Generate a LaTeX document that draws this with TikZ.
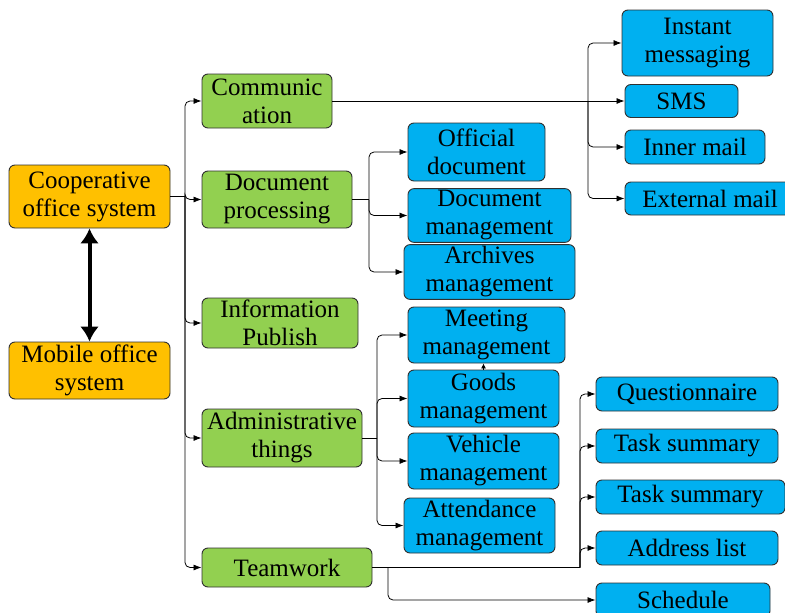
\documentclass[tikz,border=0pt]{standalone}
\usepackage{fontspec}
\setmainfont{Liberation Serif}
\usetikzlibrary{arrows.meta}
\usepackage{xcolor}

\definecolor{sysOrange}{HTML}{FFC000}
\definecolor{modGreen}{HTML}{92D050}
\definecolor{itemBlue}{HTML}{00B0F0}
\definecolor{edgeGray}{HTML}{303030}

\tikzset{
  every box/.style={draw=edgeGray, line width=0.9pt, rounded corners=6pt,
    align=center, inner sep=2pt, font=\fontsize{25}{28}\selectfont},
  system box/.style={every box, fill=sysOrange},
  module box/.style={every box, fill=modGreen},
  item box/.style={every box, fill=itemBlue},
  link/.style={line width=0.8pt, rounded corners=5pt},
  link arrow/.style={link, -{Latex[length=8pt,width=6pt]}},
}

\begin{document}
\begin{tikzpicture}[x=1pt, y=-1pt]
\useasboundingbox (0,0) rectangle (785,613);

% systems
\node [system box, minimum width=161pt, minimum height=63pt] (coop) at (89.5,196.5) {Cooperative\\office system};
\node [system box, minimum width=161pt, minimum height=57pt] (mobile) at (89.5,370.5) {Mobile office\\system};

% modules
\node [module box, minimum width=130pt, minimum height=54pt] (comm) at (267,101) {Communic\\ation};
\node [module box, minimum width=150pt, minimum height=57pt] (doc) at (277,199.5) {Document\\processing};
\node [module box, minimum width=156pt, minimum height=50pt] (info) at (280,323) {Information\\Publish};
\node [module box, minimum width=160pt, minimum height=58pt] (admin) at (282,438) {Administrative\\things};
\node [module box, minimum width=170pt, minimum height=39pt] (team) at (287,567.5) {Teamwork};

% communication items
\node [item box, minimum width=151pt, minimum height=66pt] (instant) at (697.5,43) {Instant\\messaging};
\node [item box, minimum width=113pt, minimum height=33pt] (sms) at (681.5,101) {SMS};
\node [item box, minimum width=140pt, minimum height=34pt] (inner) at (695,147) {Inner mail};
\node [item box, minimum width=170pt, minimum height=33pt] (external) at (710,198.5) {External mail};

% document items
\node [item box, minimum width=137pt, minimum height=58pt] (official) at (476.5,152) {Official\\document};
\node [item box, minimum width=163pt, minimum height=49pt] (docmgmt) at (489.5,215.5) {Document\\management};
\node [item box, minimum width=171pt, minimum height=50pt] (archives) at (489.5,272) {Archives\\management};

% administrative items
\node [item box, minimum width=157pt, minimum height=56pt] (meeting) at (486.5,335) {Meeting\\management};
\node [item box, minimum width=151pt, minimum height=57pt] (goods) at (483.5,398.5) {Goods\\management};
\node [item box, minimum width=151pt, minimum height=56pt] (vehicle) at (483.5,461) {Vehicle\\management};
\node [item box, minimum width=151pt, minimum height=55pt] (attend) at (479.5,525.5) {Attendance\\management};

% teamwork items
\node [item box, minimum width=182pt, minimum height=34pt] (quest) at (687,394) {Questionnaire};
\node [item box, minimum width=182pt, minimum height=34pt] (taskA) at (687,446) {Task summary};
\node [item box, minimum width=189pt, minimum height=34pt] (taskB) at (690.5,497) {Task summary};
\node [item box, minimum width=182pt, minimum height=34pt] (address) at (687,548) {Address list};
\node [item box, minimum width=174pt, minimum height=34pt] (schedule) at (683,600) {Schedule};

% forks
\coordinate (trunk) at (185,196.5);
\coordinate (commfork) at (588,101);
\coordinate (docfork) at (369,199.5);
\coordinate (admfork) at (377,438);
\coordinate (teamfork) at (580,567.5);
\coordinate (schedfork) at (388,567.5);

\draw [line width=4pt, {Latex[length=15pt,width=19pt]}-{Latex[length=15pt,width=19pt]}] (coop.south) -- (mobile.north);

\draw [link] (coop.east) -- (trunk);
\foreach \m in {comm,doc,info,admin,team}
  \draw [link arrow] (trunk) |- (\m.west);

\draw [link arrow] (comm.east) -- (sms.west);
\foreach \m in {instant,inner,external}
  \draw [link arrow] (commfork) |- (\m.west);

\draw [link] (doc.east) -- (docfork);
\foreach \m in {official,docmgmt,archives}
  \draw [link arrow] (docfork) |- (\m.west);

\draw [link] (admin.east) -- (admfork);
\foreach \m in {meeting,goods,vehicle,attend}
  \draw [link arrow] (admfork) |- (\m.west);
\draw [-{Latex[length=5pt,width=5pt]}, line width=0.8pt] (goods.north) -- (goods.north |- meeting.south);

\draw [link] (team.east) -- (teamfork);
\foreach \m in {quest,taskA,taskB,address}
  \draw [link arrow] (teamfork) |- (\m.west);
\draw [link arrow] (schedfork) |- (schedule.west);

\end{tikzpicture}
\end{document}
